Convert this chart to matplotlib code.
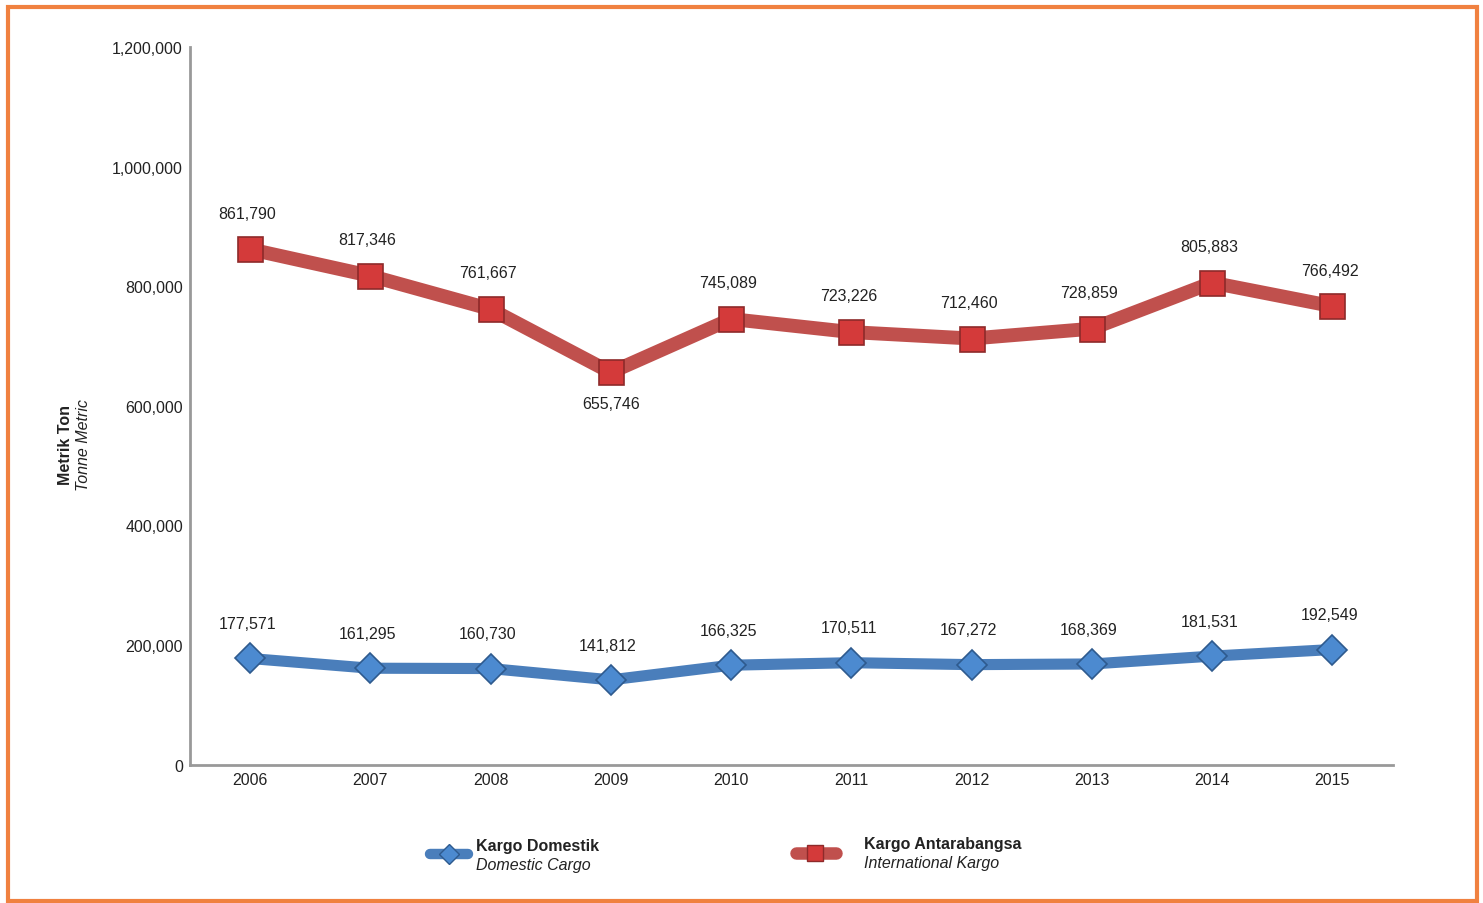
import matplotlib.pyplot as plt
from matplotlib.lines import Line2D
from matplotlib.patches import Rectangle

plt.rcParams['font.family'] = ['Liberation Sans', 'DejaVu Sans']

# data
tahun = [2006, 2007, 2008, 2009, 2010, 2011, 2012, 2013, 2014, 2015]
domestik = [177571, 161295, 160730, 141812, 166325, 170511, 167272, 168369, 181531, 192549]
antarabangsa = [861790, 817346, 761667, 655746, 745089, 723226, 712460, 728859, 805883, 766492]
yticks = [0, 200000, 400000, 600000, 800000, 1000000, 1200000]

BIRU = '#4A7EBB'
MERAH = '#C0504D'
TEXT = '#222222'

fig = plt.figure(figsize=(14.83, 9.04), dpi=100)
ax = fig.add_axes([0.128, 0.153, 0.811, 0.794])

ax.plot(tahun, antarabangsa, color=MERAH, lw=10, solid_capstyle='butt', zorder=2)
ax.plot(tahun, antarabangsa, ls='none', marker='s', ms=18, mfc='#D43A3A',
        mec='#8E2A2A', mew=1.2, zorder=3)
ax.plot(tahun, domestik, color=BIRU, lw=8, solid_capstyle='butt', zorder=2)
ax.plot(tahun, domestik, ls='none', marker='D', ms=15, mfc='#4C8AD0',
        mec='#2E5A8E', mew=1.2, zorder=3)

# label nilai
for x, v in zip(tahun, antarabangsa):
    if x == 2009:
        ax.annotate(f'{v:,}', (x, v), xytext=(0, -22), textcoords='offset points',
                    ha='center', va='center', fontsize=11.5, color=TEXT)
    else:
        ax.annotate(f'{v:,}', (x, v), xytext=(-2, 26), textcoords='offset points',
                    ha='center', va='center', fontsize=11.5, color=TEXT)
for x, v in zip(tahun, domestik):
    ax.annotate(f'{v:,}', (x, v), xytext=(-2, 25), textcoords='offset points',
                ha='center', va='center', fontsize=11.5, color=TEXT)

ax.set_xlim(2005.5, 2015.5)
ax.set_ylim(0, 1200000)
ax.set_xticks(tahun)
ax.set_xticklabels([str(t) for t in tahun], fontsize=11.5, color=TEXT)
ax.set_yticks(yticks)
ax.set_yticklabels([f'{t:,}' for t in yticks], fontsize=11.5, color=TEXT)
ax.tick_params(length=0, pad=5)
for s in ['top', 'right']:
    ax.spines[s].set_visible(False)
for s in ['left', 'bottom']:
    ax.spines[s].set_color('#999999')
    ax.spines[s].set_linewidth(2)

# label paksi y
fig.text(65 / 1483, 1 - 445 / 904, 'Metrik Ton', rotation=90, ha='center', va='center',
         fontsize=11.5, fontweight='bold', color=TEXT)
fig.text(84 / 1483, 1 - 445 / 904, 'Tonne Metric', rotation=90, ha='center', va='center',
         fontsize=11.5, fontstyle='italic', color=TEXT)

# legenda
def fx(p):
    return p / 1483

def fy(p):
    return 1 - p / 904

fig.add_artist(Line2D([fx(430), fx(468)], [fy(855), fy(855)], color=BIRU, lw=7.5,
                      solid_capstyle='round'))
fig.add_artist(Line2D([fx(449)], [fy(855)], marker='D', ms=10, mfc='#4C8AD0', mec='#2E5A8E'))
fig.text(fx(476), fy(847), 'Kargo Domestik', ha='left', va='center', fontsize=11.5,
         fontweight='bold', color=TEXT)
fig.text(fx(476), fy(866), 'Domestic Cargo', ha='left', va='center', fontsize=11.5,
         fontstyle='italic', color=TEXT)

fig.add_artist(Line2D([fx(796), fx(836)], [fy(854), fy(854)], color=MERAH, lw=9,
                      solid_capstyle='round'))
fig.add_artist(Line2D([fx(815)], [fy(854)], marker='s', ms=11, mfc='#D43A3A', mec='#8E2A2A'))
fig.text(fx(864), fy(845), 'Kargo Antarabangsa', ha='left', va='center', fontsize=11.5,
         fontweight='bold', color=TEXT)
fig.text(fx(864), fy(864), 'International Kargo', ha='left', va='center', fontsize=11.5,
         fontstyle='italic', color=TEXT)

# bingkai oren
fig.add_artist(Rectangle((fx(8), fy(902)), fx(1469), 894 / 904, fill=False,
                         edgecolor='#F08140', lw=3, transform=fig.transFigure))

fig.savefig('out.png', dpi=100)
